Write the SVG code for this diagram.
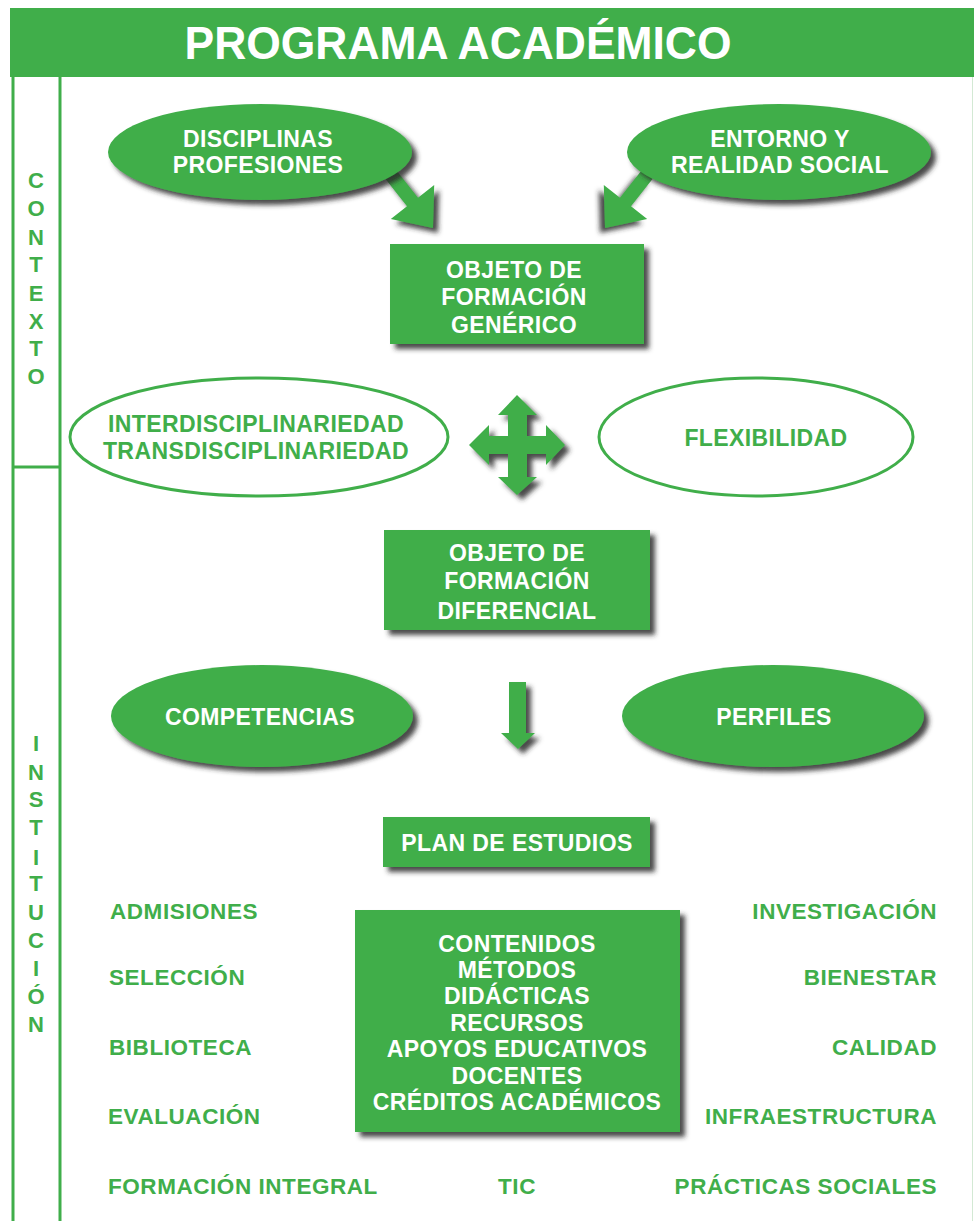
<svg xmlns="http://www.w3.org/2000/svg" width="974" height="1221" viewBox="0 0 974 1221">
<defs>
<filter id="sh" x="-20%" y="-20%" width="150%" height="150%">
<feDropShadow dx="5" dy="5" stdDeviation="2.5" flood-color="#2a2a2a" flood-opacity="0.85"/>
</filter>
</defs>
<style>
.g{fill:#40ae4a}
.w{fill:#fff;font-family:"Liberation Sans",Arial,sans-serif;font-weight:bold;font-size:23px;text-anchor:middle;letter-spacing:0.4px}
.t{fill:#40ae4a;font-family:"Liberation Sans",Arial,sans-serif;font-weight:bold;font-size:23px;text-anchor:middle;letter-spacing:0.4px}
.l{fill:#40ae4a;font-family:"Liberation Sans",Arial,sans-serif;font-weight:bold;font-size:22.5px;letter-spacing:0.55px}
.v{fill:#40ae4a;font-family:"Liberation Sans",Arial,sans-serif;font-weight:bold;font-size:22px;text-anchor:middle}
.o{fill:#fff;stroke:#40ae4a;stroke-width:3}
.bar{stroke:#40ae4a;stroke-width:3;fill:none}
</style>
<rect width="974" height="1221" fill="#fff"/>

<g id="header">
<rect x="10" y="8" width="964" height="69" class="g"/>
<text x="458" y="59" fill="#fff" font-family="'Liberation Sans',Arial,sans-serif" font-weight="bold" font-size="46" text-anchor="middle" textLength="547" lengthAdjust="spacingAndGlyphs">PROGRAMA ACADÉMICO</text>
</g>

<g id="sidebar">
<line x1="13" y1="77" x2="13" y2="1221" class="bar"/>
<line x1="60" y1="77" x2="60" y2="1221" class="bar"/>
<line x1="13" y1="467" x2="60" y2="467" class="bar"/>
<line x1="972.5" y1="77" x2="972.5" y2="1221" stroke="#d3e9d4" stroke-width="1"/>
<g id="contexto">
<text x="36" y="188" class="v">C</text>
<text x="36" y="216" class="v">O</text>
<text x="36" y="245" class="v">N</text>
<text x="36" y="272" class="v">T</text>
<text x="36" y="301" class="v">E</text>
<text x="36" y="329" class="v">X</text>
<text x="36" y="356" class="v">T</text>
<text x="36" y="384" class="v">O</text>
</g>
<g id="institucion">
<text x="36" y="751" class="v">I</text>
<text x="36" y="780" class="v">N</text>
<text x="36" y="807" class="v">S</text>
<text x="36" y="835" class="v">T</text>
<text x="36" y="865" class="v">I</text>
<text x="36" y="891" class="v">T</text>
<text x="36" y="920" class="v">U</text>
<text x="36" y="948" class="v">C</text>
<text x="36" y="976" class="v">I</text>
<text x="36" y="1004" class="v">Ó</text>
<text x="36" y="1032" class="v">N</text>
</g>
</g>

<g id="connectors">
<polygon class="g" filter="url(#sh)" points="385.3,178.8 407,206.3 390.8,219.1 433,228 434.2,184.9 418,197.7 396.3,170.2"/>
<polygon class="g" filter="url(#sh)" transform="translate(1038,0) scale(-1,1)" points="385.3,178.8 407,206.3 390.8,219.1 433,228 434.2,184.9 418,197.7 396.3,170.2"/>
<polygon class="g" filter="url(#sh)" points="517,395 537,415 527,415 527,436 546,436 546,425 565,445 546,465 546,454 527,454 527,477 537,477 517,495 498,477 508,477 508,454 489,454 489,465 469,445 489,425 489,436 508,436 508,415 498,415"/>
<polygon class="g" filter="url(#sh)" points="509,682 526,682 526,733 535,733 518,749 501,733 509,733"/>
</g>

<g id="disciplinas">
<ellipse cx="260" cy="152" rx="152" ry="48" class="g" filter="url(#sh)"/>
<text x="258" y="147" class="w">DISCIPLINAS</text>
<text x="258" y="173" class="w">PROFESIONES</text>
</g>

<g id="entorno">
<ellipse cx="779" cy="152" rx="152" ry="48" class="g" filter="url(#sh)"/>
<text x="780" y="147" class="w">ENTORNO Y</text>
<text x="780" y="173" class="w">REALIDAD SOCIAL</text>
</g>

<g id="objeto-generico">
<rect x="390" y="244" width="254" height="100" class="g" filter="url(#sh)"/>
<text x="514" y="278" class="w">OBJETO DE</text>
<text x="514" y="305" class="w">FORMACIÓN</text>
<text x="514" y="333" class="w">GENÉRICO</text>
</g>

<g id="inter">
<ellipse cx="259" cy="437" rx="189" ry="59" class="o"/>
<text x="256" y="432" class="t">INTERDISCIPLINARIEDAD</text>
<text x="256" y="459" class="t">TRANSDISCIPLINARIEDAD</text>
</g>

<g id="flexibilidad">
<ellipse cx="756" cy="437" rx="157" ry="59" class="o"/>
<text x="766" y="446" class="t">FLEXIBILIDAD</text>
</g>

<g id="objeto-diferencial">
<rect x="384" y="530" width="266" height="100" class="g" filter="url(#sh)"/>
<text x="517" y="561" class="w">OBJETO DE</text>
<text x="517" y="589" class="w">FORMACIÓN</text>
<text x="517" y="619" class="w">DIFERENCIAL</text>
</g>

<g id="competencias">
<ellipse cx="262" cy="716" rx="151" ry="51" class="g" filter="url(#sh)"/>
<text x="260" y="725" class="w">COMPETENCIAS</text>
</g>

<g id="perfiles">
<ellipse cx="773" cy="716" rx="151" ry="51" class="g" filter="url(#sh)"/>
<text x="774" y="725" class="w">PERFILES</text>
</g>

<g id="plan">
<rect x="383" y="817" width="267" height="50" class="g" filter="url(#sh)"/>
<text x="517" y="851" class="w">PLAN DE ESTUDIOS</text>
</g>

<g id="contenidos">
<rect x="355" y="910" width="325" height="222" class="g" filter="url(#sh)"/>
<text x="517" y="952" class="w">CONTENIDOS</text>
<text x="517" y="978" class="w">MÉTODOS</text>
<text x="517" y="1004" class="w">DIDÁCTICAS</text>
<text x="517" y="1031" class="w">RECURSOS</text>
<text x="517" y="1057" class="w">APOYOS EDUCATIVOS</text>
<text x="517" y="1084" class="w">DOCENTES</text>
<text x="517" y="1110" class="w">CRÉDITOS ACADÉMICOS</text>
</g>

<g id="labels-left">
<text x="110" y="919" class="l">ADMISIONES</text>
<text x="109" y="985" class="l">SELECCIÓN</text>
<text x="109" y="1055" class="l">BIBLIOTECA</text>
<text x="108" y="1124" class="l">EVALUACIÓN</text>
<text x="108" y="1194" class="l">FORMACIÓN INTEGRAL</text>
</g>
<g id="labels-right">
<text x="937" y="919" class="l" text-anchor="end">INVESTIGACIÓN</text>
<text x="937" y="985" class="l" text-anchor="end">BIENESTAR</text>
<text x="937" y="1055" class="l" text-anchor="end">CALIDAD</text>
<text x="937" y="1124" class="l" text-anchor="end">INFRAESTRUCTURA</text>
<text x="937" y="1194" class="l" text-anchor="end">PRÁCTICAS SOCIALES</text>
</g>
<g id="tic">
<text x="517" y="1194" class="l" text-anchor="middle">TIC</text>
</g>
</svg>
